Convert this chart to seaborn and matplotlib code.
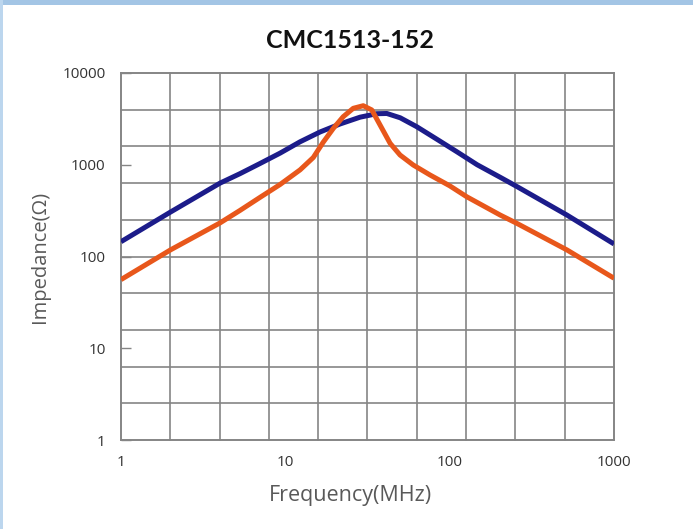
import matplotlib
matplotlib.use("Agg")
import matplotlib.pyplot as plt
from matplotlib.patches import Rectangle
from matplotlib.ticker import FixedLocator, FixedFormatter, NullLocator
import seaborn as sns
import pandas as pd

# ---- data ----
blue_freq = [1, 2, 4, 5.3, 7.0, 9.3, 12.3, 16.3, 21.5, 28.5, 36, 41.5, 50, 63, 83.5, 111, 147, 203, 256, 517, 1000]
blue_imp = [145, 305, 630, 800, 1030, 1340, 1780, 2280, 2780, 3300, 3600, 3620, 3250, 2600, 1900, 1380, 1000, 730, 580, 283, 137]

orange_freq = [1, 2, 4, 5.3, 7.0, 9.3, 12.3, 14.8, 17.0, 19.6, 22.5, 25.9, 29.8, 33.6, 37.7, 43.4, 49.9, 60, 76, 100, 127, 203, 256, 517, 1000]
orange_imp = [56, 118, 232, 318, 440, 610, 880, 1200, 1760, 2495, 3340, 4122, 4400, 3953, 2713, 1713, 1277, 994, 773, 590, 448, 283, 230, 118, 58]

x_ticks = [1, 10, 100, 1000]
x_tick_labels = ["1", "10", "100", "1000"]
y_ticks = [1, 10, 100, 1000, 10000]
y_tick_labels = ["1", "10", "100", "1000", "10000"]

title = "CMC1513-152"
x_label = "Frequency(MHz)"
y_label = "Impedance(Ω)"

BLUE = "#1c1c8a"
ORANGE = "#e8571b"
GRID = "#858585"

sns.set_theme(style="white")
plt.rcParams["font.family"] = ["Open Sans", "DejaVu Sans"]

fig = plt.figure(figsize=(6.93, 5.29), dpi=100)
fig.patch.set_facecolor("white")
# decorative blue border strips of the source image
fig.patches.append(Rectangle((0, 1 - 5 / 529), 1, 5 / 529, transform=fig.transFigure,
                             facecolor="#a3c5e5", edgecolor="none", zorder=0))
fig.patches.append(Rectangle((0, 0), 3 / 693, 1, transform=fig.transFigure,
                             facecolor="#bcd6ee", edgecolor="none", zorder=0))

ax = fig.add_axes([121 / 693, 1 - 440 / 529, 493 / 693, 367 / 529])

df_b = pd.DataFrame({"f": blue_freq, "z": blue_imp})
df_o = pd.DataFrame({"f": orange_freq, "z": orange_imp})
sns.lineplot(data=df_b, x="f", y="z", ax=ax, color=BLUE, lw=3.6, sort=False, zorder=3,
             solid_capstyle="butt", solid_joinstyle="round")
sns.lineplot(data=df_o, x="f", y="z", ax=ax, color=ORANGE, lw=3.6, sort=False, zorder=4,
             solid_capstyle="butt", solid_joinstyle="round")

ax.set_xscale("log")
ax.set_yscale("log")
ax.set_xlim(1, 1000)
ax.set_ylim(1, 10000)

# uniform grid (10 x 10 cells in display space)
for i in range(11):
    ax.plot([i / 10, i / 10], [0, 1], transform=ax.transAxes, color=GRID, lw=1.2, zorder=1,
            clip_on=False)
    ax.plot([0, 1], [i / 10, i / 10], transform=ax.transAxes, color=GRID, lw=1.2, zorder=1,
            clip_on=False)

for s in ax.spines.values():
    s.set_color(GRID)
    s.set_linewidth(1.2)

ax.xaxis.set_major_locator(FixedLocator(x_ticks))
ax.xaxis.set_major_formatter(FixedFormatter(x_tick_labels))
ax.xaxis.set_minor_locator(NullLocator())
ax.yaxis.set_major_locator(FixedLocator(y_ticks))
ax.yaxis.set_major_formatter(FixedFormatter(y_tick_labels))
ax.yaxis.set_minor_locator(NullLocator())

ax.tick_params(axis="x", length=0, pad=11, labelsize=11, labelcolor="#333333")
ax.tick_params(axis="y", direction="in", length=7, width=1, color=GRID, pad=11,
               labelsize=11, labelcolor="#333333", left=True)

ax.set_xlabel(x_label, fontsize=15.5, color="#595959")
ax.xaxis.set_label_coords((350 - 121) / 493, -(495 - 440) / 367)
ax.xaxis.label.set_va("center")
ax.set_ylabel(y_label, fontsize=14.5, color="#595959")
ax.yaxis.set_label_coords(-(121 - 40) / 493, 0.5)
ax.yaxis.label.set_va("center")

fig.text(0.505, 1 - 40 / 529, title, ha="center", va="center", fontsize=18,
         fontweight="bold", color="#111111", family=["Lato", "DejaVu Sans"])

fig.savefig("out.png", dpi=100)
